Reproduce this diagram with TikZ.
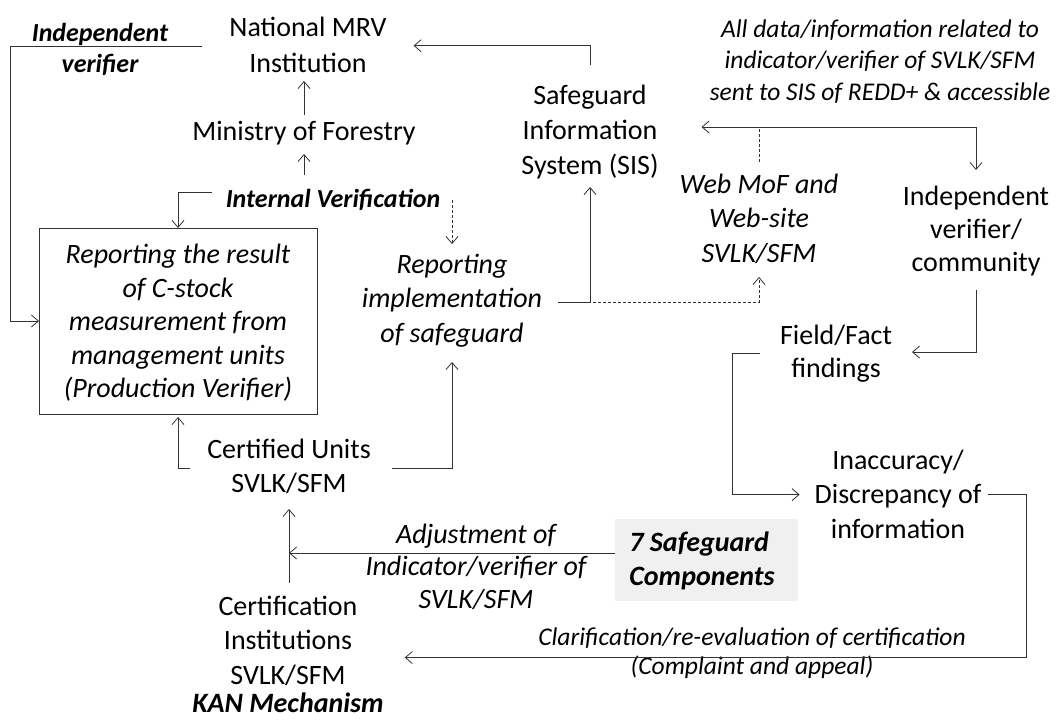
\documentclass[tikz,border=0pt]{standalone}
\usepackage{fontspec}
\setmainfont{Carlito}
\usetikzlibrary{arrows.meta,calc}
% multi-line text block whose reference point is the first baseline
\newcommand\mlines[2][c]{\begin{tabular}[t]{@{}#1@{}}#2\end{tabular}}
\begin{document}
\begin{tikzpicture}[x=1pt,y=-1pt,
  every node/.style={inner sep=0pt, outer sep=0pt},
  lbl/.style={anchor=base, font=\fontsize{28}{#1}\selectfont},
  lbl/.default=34.5,
  itl/.style={anchor=base, font=\fontsize{28}{#1}\selectfont\itshape},
  itl/.default=34.5,
  conn/.style={draw=black!80, line width=0.8pt},
  tip/.style={-{Straight Barb[length=7pt,width=12pt]}},
  dtip/.style={{Straight Barb[length=7pt,width=12pt]}-{Straight Barb[length=7pt,width=12pt]}},
  dashline/.style={dash pattern=on 3pt off 2pt},
]
\useasboundingbox (0,0) rectangle (1056,720);
\fill[white] (0,0) rectangle (1056,720);

% ---- text blocks ----
\node[anchor=base, font=\fontsize{26}{31}\selectfont\bfseries\itshape] (indep) at (100,41)
  {\mlines{Independent\\verifier}};
\coordinate (indeptail) at (202,46);
\node[lbl=36] (mrv) at (308,36.5) {\mlines{National MRV\\Institution}};
\node[lbl] (mof) at (304,140) {\mlines{Ministry of Forestry}};
\node[anchor=base, font=\fontsize{26}{34.5}\selectfont\bfseries\itshape] (iv) at (333,207)
  {\mlines{Internal Verification}};
\node[draw=black!80, line width=0.8pt, minimum width=278pt, minimum height=186pt,
  font=\fontsize{28}{33.5}\selectfont\itshape]
  (box) at (178,321) {\mlines{\rule{0pt}{30pt}Reporting the result\\of C-stock\\measurement from\\management units\\(Production Verifier)}};
\node[itl] (rep) at (452,273) {\mlines{Reporting\\implementation\\of safeguard}};
\node[lbl=35] (sis) at (590,104) {\mlines{Safeguard\\Information\\System (SIS)}};
\coordinate (sisin) at ($(sis.east)+(43,-5)$);
\node[anchor=base, font=\fontsize{25.5}{31.5}\selectfont\itshape] (alldata) at (880,37)
  {\mlines{All data/information related to\\indicator/verifier of SVLK/SFM\\sent to SIS of REDD+ \& accessible}};
\node[itl] (web) at (759,193) {\mlines{Web MoF and\\Web-site\\SVLK/SFM}};
\node[lbl=33] (indv) at (976,205) {\mlines{Independent\\verifier/\\community}};
\node[lbl=33.5] (field) at (836,344) {\mlines{Field/Fact\\findings}};
\node[lbl] (inacc) at (898,469) {\mlines{Inaccuracy/\\Discrepancy of\\information}};
\node[lbl] (cert) at (289,458) {\mlines{Certified Units\\SVLK/SFM}};
\node[fill=black!6, inner xsep=13pt, minimum width=183pt, minimum height=82pt,
  font=\fontsize{28}{34}\selectfont\bfseries\itshape]
  (seven) at (706.5,560) {\mlines[l@{\hspace{9pt}}]{\rule{0pt}{28pt}7 Safeguard\\Components}};
\node[itl=32.5] (adjust) at (476,543) {\mlines{Adjustment of\\Indicator/verifier of\\SVLK/SFM}};
\node[lbl] (certinst) at (288,615) {\mlines{Certification\\Institutions\\SVLK/SFM\\[-6pt]\textbf{\textit{KAN Mechanism}}\\[-8pt]}};
\node[anchor=base, font=\fontsize{25.5}{29}\selectfont\itshape] (clar) at (752,645)
  {\mlines{Clarification/re-evaluation of certification\\(Complaint and appeal)}};

% ---- connectors ----
\draw[conn,tip] (indeptail) -- ++(-192,0) |- (box.west);
\draw[conn,tip] ($(mof.north)+(0,-1)$) -- ($(mof.north |- mrv.south)+(0,-2.3)$);
\draw[conn,tip] ($(iv.north -| mof.north)+(0,-8)$) -- ($(mof.south)+(0,3.6)$);
\draw[conn,tip] ($(iv.west)+(-14,-8)$) -| (box.north);
\draw[conn,dashline,tip] (iv.east -| rep.north) -- ($(rep.north)+(0,-4.8)$);
\draw[conn,tip] ($(cert.west)+(-17,0)$) -| ($(box.south)+(0,3)$);
\draw[conn,tip] ($(cert.east)+(21,0)$) -| ($(rep.south)+(0,9.6)$);
\draw[conn,tip] ($(rep.east)+(16,1.4)$) -| ($(sis.south)+(0,2.5)$);
\draw[conn,dashline,tip] ($(rep.east)+(16,1.4)$) -| ($(web.south)+(0,4.6)$);
\draw[conn,dashline] ($(web.north)+(0,-6.8)$) -- (web.north |- sisin);
\draw[conn,dtip] (sisin) -| ($(indv.north)+(0,-11.9)$);
\draw[conn,tip] ($(sis.north)+(0,-14.5)$) |- ($(mrv.east)+(27,-1.6)$);
\draw[conn,tip] ($(indv.south)+(0,9)$) |- ($(field.east)+(20,-2)$);
\draw[conn,tip] ($(field.west)+(-20,-1)$) -- ++(-28,0) |- ($(inacc.west)+(-15,-2)$);
\draw[conn,tip] ($(inacc.east)+(7,-2)$) -- ++(38,0) |- ($(certinst.east)+(21,4.7)$);
\draw[conn,tip] ($(seven.west)+(0,-7)$) -- ($(seven.west -| cert.south)+(0,-7)$);
\draw[conn,tip] ($(certinst.north -| cert.south)+(0,-7.8)$) -- ($(cert.south)+(0,6.1)$);
\end{tikzpicture}
\end{document}
